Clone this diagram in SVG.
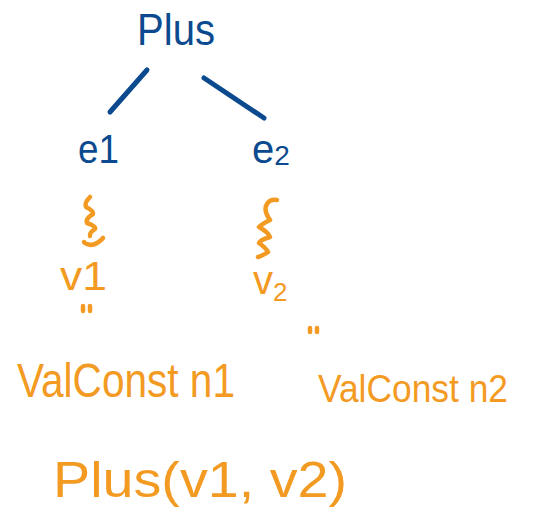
<svg xmlns="http://www.w3.org/2000/svg" width="538" height="529" viewBox="0 0 538 529">
<style>
.blue{fill:#0b4a8e;font-family:"Liberation Sans","DejaVu Sans",sans-serif}
.orange{fill:#f39a23;font-family:"Liberation Sans","DejaVu Sans",sans-serif}
.bl{stroke:#0b4a8e;stroke-width:5;stroke-linecap:round;fill:none}
.ol{stroke:#f39a23;stroke-width:4.5;stroke-linecap:round;stroke-linejoin:round;fill:none}
</style>
<rect width="538" height="529" fill="#ffffff"/>
<g id="connectors">
  <line class="bl" x1="147" y1="70" x2="110" y2="112"/>
  <line class="bl" x1="204" y1="78" x2="264" y2="118"/>
  <path class="ol" d="M90,197 Q84,203 86,207 Q94,211 93,214 Q85,219 87,223 Q96,226 95,229 Q89,233 90,236 M103,238 Q98,244 91,245 Q85,244 84,242"/>
  <path class="ol" d="M277,200 Q270,199 267,204 Q263,210 270,220 Q262,224 259,227 Q268,232 270,237 Q260,240 259,243 Q266,248 268,252 Q262,256 258,257"/>
  <path class="ol" d="M83,306 L83,311 M90,306 L90,311"/>
  <path class="ol" d="M310,328 L310,332 M317,328 L317,332"/>
</g>
<g id="plus"><text class="blue" x="137" y="45" font-size="44" textLength="78" lengthAdjust="spacingAndGlyphs">Plus</text></g>
<g id="e1"><text class="blue" x="78" y="163" font-size="40" textLength="41" lengthAdjust="spacingAndGlyphs">e1</text></g>
<g id="e2"><text class="blue" x="252" y="163" font-size="40">e<tspan font-size="28" dy="2">2</tspan></text></g>
<g id="v1"><text class="orange" x="60" y="290" font-size="40" textLength="47" lengthAdjust="spacingAndGlyphs">v1</text></g>
<g id="v2"><text class="orange" x="253" y="294" font-size="40">v<tspan font-size="26" dy="7">2</tspan></text></g>
<g id="val1"><text class="orange" x="17" y="397" font-size="48" textLength="218" lengthAdjust="spacingAndGlyphs">ValConst n1</text></g>
<g id="val2"><text class="orange" x="318" y="402" font-size="38" textLength="190" lengthAdjust="spacingAndGlyphs">ValConst n2</text></g>
<g id="result"><text class="orange" x="53" y="497" font-size="50" textLength="294" lengthAdjust="spacingAndGlyphs">Plus(v1, v2)</text></g>
</svg>
